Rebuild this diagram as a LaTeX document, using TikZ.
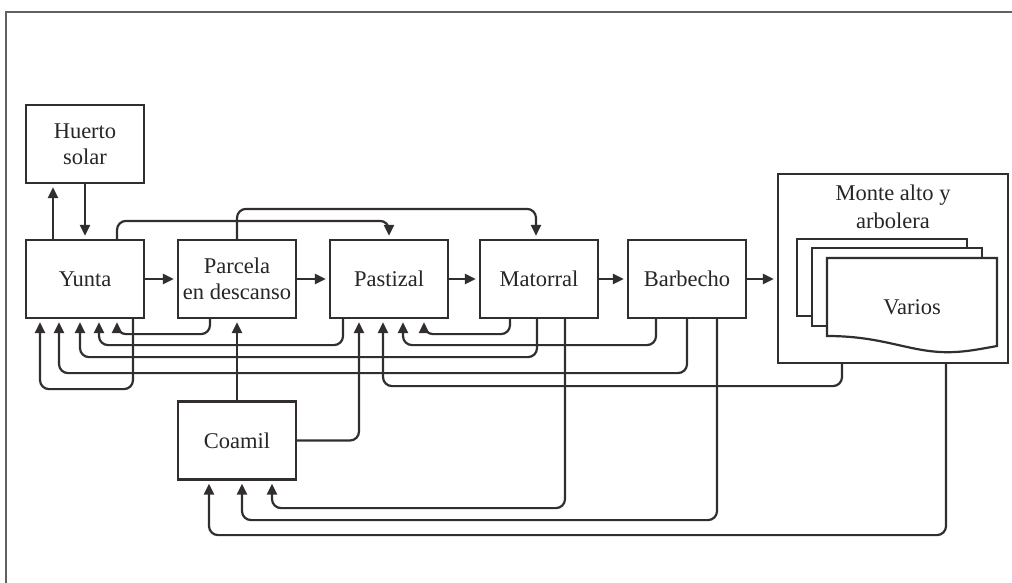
\documentclass[tikz,border=0pt]{standalone}
\usepackage{fontspec}
\setmainfont{Liberation Serif}
\usetikzlibrary{arrows.meta}
\definecolor{lc}{RGB}{50,46,46}
\definecolor{tc}{RGB}{40,37,37}
\definecolor{fc}{RGB}{100,96,96}
\begin{document}
\begin{tikzpicture}[x=1pt,y=-1pt,
  box/.style={draw=lc,line width=2.2pt,fill=white,minimum width=118pt,minimum height=78pt,inner sep=0pt,align=center,text=tc,font=\fontsize{22.5}{26}\selectfont},
  lbl/.style={inner sep=0pt,align=center,text=tc,font=\fontsize{22.5}{28}\selectfont},
  conn/.style={draw=lc,line width=2.2pt,rounded corners=9pt},
  doc/.style={draw=lc,line width=2.2pt,fill=white},
  arr/.style={conn,-{Triangle[length=11pt,width=10pt]},shorten >=3pt}]
\useasboundingbox (0,0) rectangle (1012,583);
\draw[fc,line width=2.8pt] (6,583) -- (6,12) -- (1012,12);

\node[box] (huerto) at (85,144) {Huerto\\solar};
\node[box] (yunta) at (85,279) {Yunta};
\node[box] (parcela) at (237,279) {Parcela\\en descanso};
\node[box] (pastizal) at (389,279) {Pastizal};
\node[box] (matorral) at (539,279) {Matorral};
\node[box] (barbecho) at (687,279) {Barbecho};
\node[box] (coamil) at (237,440.5) {Coamil};
\node[box,minimum width=230pt,minimum height=189pt] (monte) at (893,268.5) {};
\node[lbl] (montet) at (893,207) {Monte alto y\\arbolera};

% stacked documents
\draw[doc] (797,239) rectangle (967,316);
\draw[doc] (812,248) rectangle (982,326);
\draw[doc] (827,258) -- (997,258) -- (997,346) .. controls (975,350) and (960,353) .. (940,352) .. controls (905,350) and (880,336) .. (827,336) -- cycle;
\node[lbl] (varios) at (912,307) {Varios};

% main flow
\draw[arr] ([xshift=-32pt]yunta.north) -- ([xshift=-32pt]huerto.south);
\draw[arr] (huerto.south) -- (yunta.north);
\draw[arr] (yunta.east) -- (parcela.west);
\draw[arr] (parcela.east) -- (pastizal.west);
\draw[arr] (pastizal.east) -- (matorral.west);
\draw[arr] (matorral.east) -- (barbecho.west);
\draw[arr] (barbecho.east) -- (barbecho.east -| monte.west);
% top arcs
\draw[arr] ([xshift=32pt]yunta.north) -- ++(0,-18) -| (pastizal.north);
\draw[arr] (parcela.north) -- ++(0,-30) -| ([xshift=-3pt]matorral.north);
% back to yunta
\draw[arr] ([xshift=-27pt]parcela.south) -- ++(0,15) -| ([xshift=32pt]yunta.south);
\draw[arr] ([xshift=-46pt]pastizal.south) -- ++(0,26) -| ([xshift=14pt]yunta.south);
\draw[arr] ([xshift=-2pt]matorral.south) -- ++(0,38) -| ([xshift=-5pt]yunta.south);
\draw[arr] (barbecho.south) -- ++(0,54) -| ([xshift=-26pt]yunta.south);
\draw[arr] ([xshift=48pt]yunta.south) -- ++(0,70) -| ([xshift=-45pt]yunta.south);
% back to pastizal
\draw[arr] ([xshift=-29pt]matorral.south) -- ++(0,15) -| ([xshift=35pt]pastizal.south);
\draw[arr] ([xshift=-31pt]barbecho.south) -- ++(0,26) -| ([xshift=14pt]pastizal.south);
\draw[arr] ([xshift=-51pt]monte.south) -- ++(0,22) -| ([xshift=-6pt]pastizal.south);
\draw[arr] (coamil.east) -| ([xshift=-30pt]pastizal.south);
\draw[arr] (coamil.north) -- (parcela.south);
% back to coamil
\draw[arr] ([xshift=26pt]matorral.south) -- ++(0,189) -| ([xshift=35pt]coamil.south);
\draw[arr] ([xshift=30pt]barbecho.south) -- ++(0,201) -| ([xshift=5pt]coamil.south);
\draw[arr] ([xshift=53pt]monte.south) -- ++(0,171) -| ([xshift=-28pt]coamil.south);
\end{tikzpicture}
\end{document}
